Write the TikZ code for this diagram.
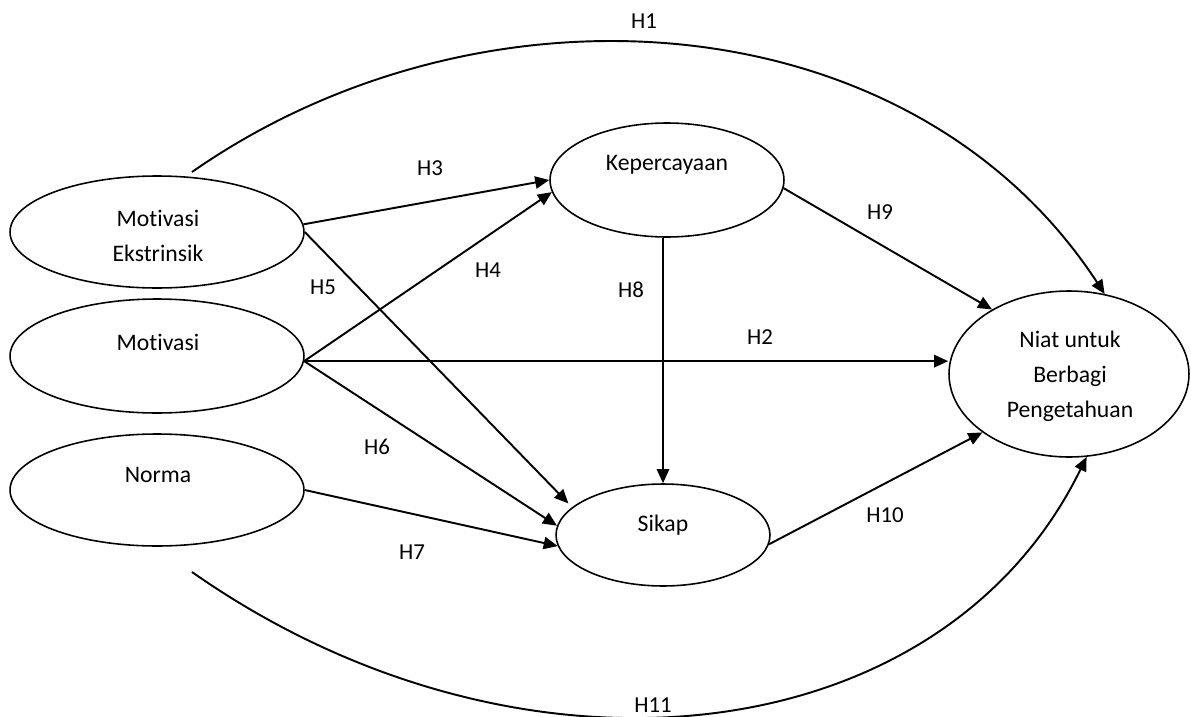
\documentclass[tikz,border=0pt]{standalone}
\usepackage{fontspec}
\setmainfont{Carlito}[Ligatures={NoCommon,NoContextual,NoRequired}]
\usetikzlibrary{arrows.meta,shapes.geometric}
\begin{document}
\begin{tikzpicture}[x=0.02cm,y=-0.02cm,
  ell/.style={draw, ellipse, line width=0.9pt, inner sep=0pt},
  txt/.style={font=\fontsize{13.5}{20}\selectfont, inner sep=0pt, align=center},
  hl/.style={font=\fontsize{13}{16}\selectfont, inner sep=0pt},
  arr/.style={line width=1.1pt, -{Triangle[length=8pt,width=7pt]}},
]
\useasboundingbox (0,0) rectangle (1191,717);
% latent variables
\node[ell, minimum width=5.88cm, minimum height=2.24cm] (ME) at (157,232) {};
\node[ell, minimum width=5.88cm, minimum height=2.28cm] (MO) at (157,356) {};
\node[ell, minimum width=5.88cm, minimum height=2.24cm] (NO) at (157,490) {};
\node[ell, minimum width=4.68cm, minimum height=2.28cm] (KE) at (667,180) {};
\node[ell, minimum width=4.28cm, minimum height=2.04cm] (SI) at (663,535) {};
\node[ell, minimum width=4.8cm, minimum height=3.32cm] (NI) at (1069,374) {};
% texts
\node[txt] (MEt) at (158,236) {Mot{}ivasi\\Ekstrinsik};
\node[txt] (MOt) at (158,342) {Mot{}ivasi};
\node[txt] (NOt) at (158,475) {Norma};
\node[txt] (KEt) at (667,165) {Kepercayaan};
\node[txt] (SIt) at (663,525) {Sikap};
\node[txt] (NIt) at (1070,376) {Niat untuk\\Berbagi\\Pengetahuan};
% connectors
\coordinate (mo) at (MO.-2);
\coordinate (h1s) at (192,172);
\coordinate (h11s) at (192,572);
\draw[arr] (h1s) .. controls (483,-31) and (912,-1) .. (NI.66);
\draw[arr] (h11s) .. controls (520,802) and (941,755) .. (NI.282);
\draw[arr] (ME.3) -- (KE.west);
\draw[arr] (mo) -- (KE.186);
\draw[arr, shorten >=3pt] (ME.east) -- (SI.163);
\draw[arr] (mo) -- (SI.175);
\draw[arr] (NO.east) -- (SI.186);
\draw[arr] (mo) -- (mo -| NI.west);
\draw[arr] (KE.south -| SI.north) -- (SI.north);
\draw[arr] (KE.-4) -- (NI.140);
\draw[arr] (SI.-5) -- (NI.214);
% labels
\node[hl] (H1) at (644,21) {H1};
\node[hl] (H2) at (760,337) {H2};
\node[hl] (H3) at (430,168) {H3};
\node[hl] (H4) at (488,270) {H4};
\node[hl] (H5) at (323,287) {H5};
\node[hl] (H6) at (377,447) {H6};
\node[hl] (H7) at (412,552) {H7};
\node[hl] (H8) at (631,290) {H8};
\node[hl] (H9) at (880,212) {H9};
\node[hl] (H10) at (885,515) {H10};
\node[hl] (H11) at (653,705) {H11};
\end{tikzpicture}
\end{document}
